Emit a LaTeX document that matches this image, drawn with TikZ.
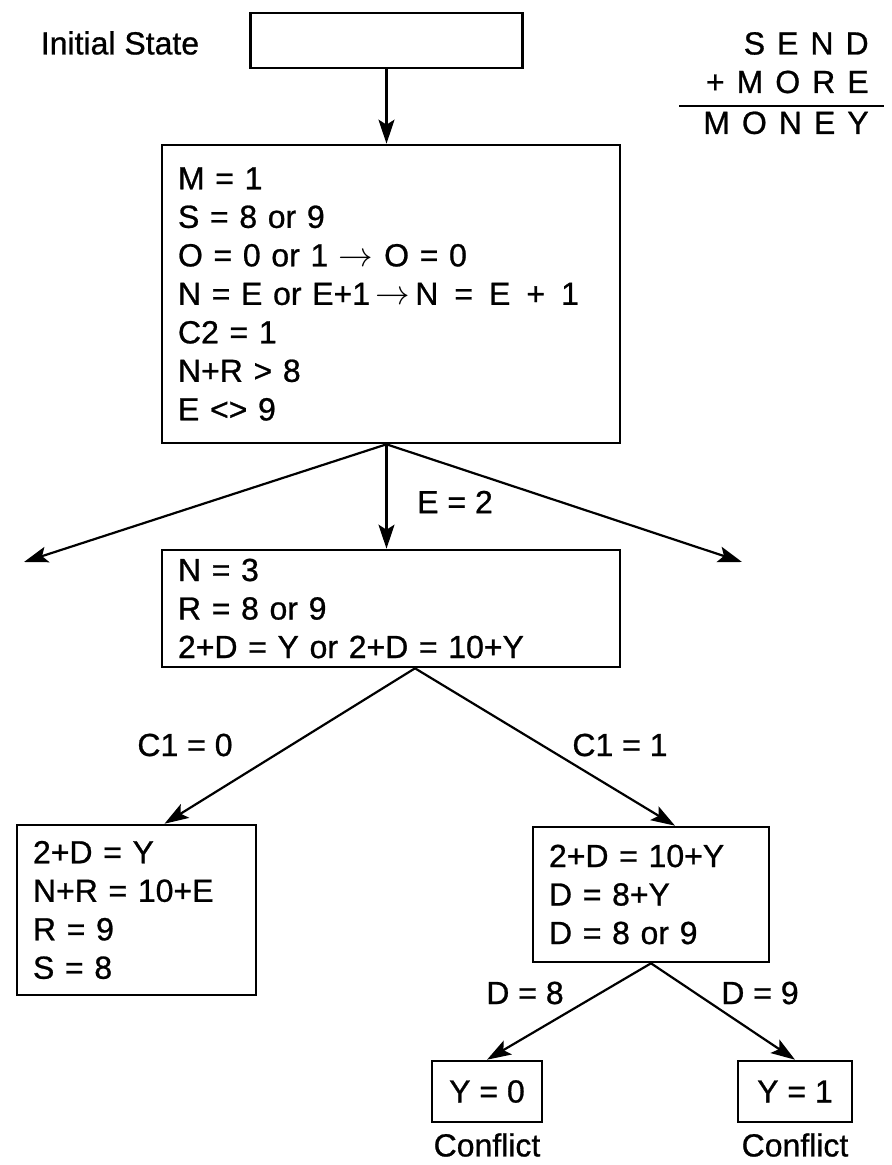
\documentclass[tikz,border=0pt]{standalone}
\usepackage{fontspec}
\setmainfont[FakeBold=0.8]{Liberation Sans}
\usetikzlibrary{arrows.meta, positioning}
\tikzset{
    statenode/.style = {draw, rectangle, line width=1.3pt, align=left, inner xsep=8pt, inner ysep=0pt, node distance=0em},
    textnode/.style  = {draw=none, fill=none, rectangle, inner sep=0em, node distance=0em},
    connect/.style = {black, line width=1.1pt, -{Stealth[length=12pt, width=8pt, inset=2.5pt]}}
}
\newcommand{\ls}{\kern6pt}

\begin{document}
\begin{tikzpicture}[font=\fontsize{16}{19.25}\selectfont]
    \useasboundingbox (-195.5pt,147pt) rectangle (250pt,-435.5pt);
    \node[statenode, name=S0, text width=213pt, minimum height=149pt] {M = 1\\ S = 8 or 9\\ O = 0 or 1 $\rightarrow$ O = 0\\ N = E or E+1\,$\rightarrow$\,N\enspace=\enspace E\enspace+\enspace1\\ C2 = 1\\ N+R > 8\\ E <> 9};
    \node[statenode, name=I, above of = S0, xshift=-2.25pt, yshift=126.75pt, minimum width=136pt, minimum height=27.5pt] {};
    \node[textnode, name=T0, left of = I, xshift=-133.25pt, yshift=-1.25pt] {Initial State};
    \node[textnode, name=SUM, right of = I, xshift=197.5pt, yshift=-23pt] {\setlength{\arrayrulewidth}{1.2pt}\begin{tabular}{@{\hspace{12pt}}r@{\hspace{7.5pt}}}
        S\ls E\ls N\ls D\\ +\ls M\ls O\ls R\ls E\\ \hline M\ls O\ls N\ls E\ls Y\end{tabular}};
    \node[statenode, name=S1, below of = S0, yshift=-157.25pt, text width=213pt, minimum height=58.5pt] {N = 3\\ R = 8 or 9\\ 2+D = Y or 2+D = 10+Y};
    \node[statenode, name=S2, below of = S1, xshift=-127.25pt, yshift=-150.75pt, text width=103.5pt, minimum height=85pt] {2+D = Y\\ N+R = 10+E\\ R = 9\\ S = 8};
    \node[statenode, name=S3, below of = S1, xshift=130pt, yshift=-143pt, text width=102pt, minimum height=67.5pt] {2+D = 10+Y\\ D = 8+Y\\ D = 8 or 9};
    \node[statenode, name=Y0, below of = S3, xshift=-82pt, yshift=-98.5pt, minimum width=55pt, minimum height=30.5pt, align=center] {Y = 0};
    \node[statenode, name=Y1, below of = S3, xshift=72pt, yshift=-98.5pt, minimum width=57pt, minimum height=30.5pt, align=center] {Y = 1};
    \node[textnode, name=F0, below of = Y0, yshift=-26.75pt] {Conflict};
    \node[textnode, name=F1, below of = Y1, yshift=-26.75pt] {Conflict};
    % branch labels
    \node[textnode, name=E2, right of = S0, xshift=32pt, yshift=-104pt] {E = 2};
    \node[textnode, name=C10, right of = S1, xshift=-103pt, yshift=-68.25pt] {C1 = 0};
    \node[textnode, name=C11, right of = S1, xshift=114.5pt, yshift=-68.25pt] {C1 = 1};
    \node[textnode, name=D8, right of = S3, xshift=-63pt, yshift=-49.25pt] {D = 8};
    \node[textnode, name=D9, right of = S3, xshift=54.5pt, yshift=-49.25pt] {D = 9};
    % free ends of the outer branches
    \coordinate (A0) at (I.south |- S0.south);
    \coordinate (L1) at ([xshift=-183.5pt, yshift=-134pt]S0.center);
    \coordinate (R1) at ([xshift=175.5pt, yshift=-134pt]S0.center);
    \draw[connect] (I.south) -- (I.south |- S0.north);
    \draw[connect] (A0) -- (A0 |- S1.north);
    \draw[connect] (A0) -- (L1);
    \draw[connect] (A0) -- (R1);
    \draw[connect] ([xshift=12pt]S1.south) -- ([xshift=14pt]S2.north);
    \draw[connect] ([xshift=12pt]S1.south) -- ([xshift=12pt]S3.north);
    \draw[connect] (S3.south) -- (Y0.north);
    \draw[connect] (S3.south) -- (Y1.north);
\end{tikzpicture}
\end{document}
